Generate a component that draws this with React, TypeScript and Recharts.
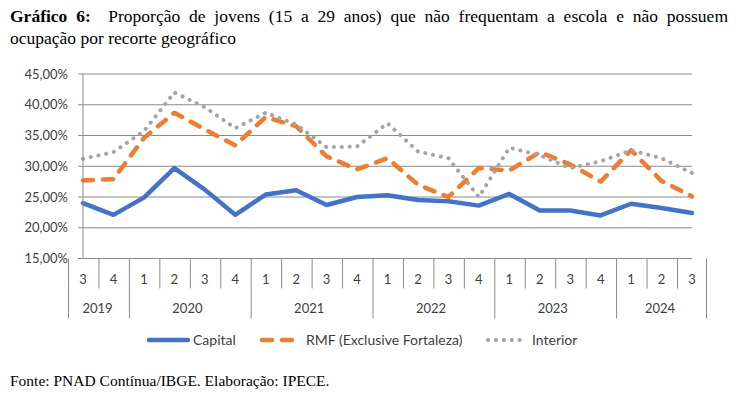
import React from 'react';
import { LineChart, Line, XAxis, YAxis, CartesianGrid } from 'recharts';

const quarters = ['3', '4', '1', '2', '3', '4', '1', '2', '3', '4', '1', '2', '3', '4', '1', '2', '3', '4', '1', '2', '3'];
const years = ['2019', '2019', '2020', '2020', '2020', '2020', '2021', '2021', '2021', '2021', '2022', '2022', '2022', '2022', '2023', '2023', '2023', '2023', '2024', '2024', '2024'];
const capital = [24.0, 22.1, 24.9, 29.7, 26.2, 22.1, 25.4, 26.1, 23.7, 25.0, 25.3, 24.5, 24.3, 23.6, 25.5, 22.8, 22.8, 22.0, 23.9, 23.2, 22.4];
const rmf = [27.7, 27.9, 34.6, 38.7, 36.0, 33.4, 38.0, 36.5, 31.6, 29.5, 31.3, 27.0, 25.0, 29.7, 29.3, 32.3, 30.3, 27.5, 32.6, 27.6, 25.1];
const interior = [31.2, 32.3, 35.7, 42.0, 39.6, 36.2, 38.7, 36.8, 33.1, 33.2, 37.0, 32.4, 31.3, 25.0, 33.0, 31.8, 29.7, 30.8, 32.6, 31.3, 28.9];
const yTicks = [15, 20, 25, 30, 35, 40, 45];

const data = quarters.map((q, i) => ({
  q,
  year: years[i],
  capital: capital[i],
  rmf: rmf[i],
  interior: interior[i],
}));

const FONT = 'Lato, "Open Sans", sans-serif';
const SERIF = '"Liberation Serif", "Times New Roman", serif';
const GRID = '#8a8a8a';
const TEXT = '#404040';

// plot box
const PLOT_LEFT = 83;
const PLOT_RIGHT = 692;
const PLOT_TOP = 74;
const PLOT_BOTTOM = 258.5;
const STEP = (PLOT_RIGHT - PLOT_LEFT) / quarters.length;

const series = [
  { key: 'capital', name: 'Capital', color: '#4472C4', dash: undefined, width: 4.5 },
  { key: 'rmf', name: 'RMF (Exclusive Fortaleza)', color: '#ED7D31', dash: '10 10', width: 4.5 },
  { key: 'interior', name: 'Interior', color: '#A5A5A5', dash: '0.1 7.8', width: 4 },
];
const legendLeft = [146, 259, 485];

const fmt = (v: number) => v.toFixed(2).replace('.', ',') + '%';

// Two-level category axis: quarter row + year row with separators
function QuarterTick(props: any) {
  const { x, y, payload } = props;
  const i = props.index ?? payload.index;
  const yearStart = i === 0 || years[i] !== years[i - 1];
  const last = i === quarters.length - 1;
  let count = 0;
  if (yearStart) {
    while (years[i + count] === years[i]) count++;
  }
  const left = x - STEP / 2;
  return (
    <g>
      <line x1={left} x2={left} y1={y} y2={y + (yearStart ? 60 : 30)} stroke={GRID} strokeWidth={1} />
      {last && <line x1={x + STEP / 2} x2={x + STEP / 2} y1={y} y2={y + 60} stroke={GRID} strokeWidth={1} />}
      <text x={x} y={y + 25} textAnchor="middle" fontSize={13} fontFamily={FONT} fill={TEXT}>
        {payload.value}
      </text>
      {yearStart && (
        <text x={x + ((count - 1) * STEP) / 2} y={y + 54} textAnchor="middle" fontSize={13} fontFamily={FONT} fill={TEXT}>
          {years[i]}
        </text>
      )}
    </g>
  );
}

function Swatch({ color, dash, width }: { color: string; dash?: string; width: number }) {
  return (
    <svg width={45} height={10} style={{ display: 'block' }}>
      <line x1={3} x2={42} y1={5} y2={5} stroke={color} strokeWidth={width} strokeDasharray={dash} strokeLinecap="round" />
    </svg>
  );
}

export default function App() {
  return (
    <div style={{ position: 'relative', width: 740, height: 399, margin: -8, background: '#fff', overflow: 'hidden' }}>
      <div style={{ position: 'absolute', left: 10, top: 5, width: 718, fontFamily: SERIF, fontSize: 17.5, lineHeight: '22px', color: '#000' }}>
        <div style={{ textAlign: 'justify', textAlignLast: 'justify', whiteSpace: 'nowrap' as any }}>
          <b>Gráfico 6:</b>&nbsp; Proporção de jovens (15 a 29 anos) que não frequentam a escola e não possuem
        </div>
        <div>ocupação por recorte geográfico</div>
      </div>

      <div style={{ position: 'absolute', left: 0, top: 0 }}>
        <LineChart
          width={740}
          height={399}
          data={data}
          margin={{ top: PLOT_TOP, right: 740 - PLOT_RIGHT, left: 20, bottom: 399 - PLOT_BOTTOM - 60 }}
        >
          <CartesianGrid vertical={false} stroke={GRID} strokeWidth={1} />
          <XAxis
            dataKey="q"
            interval={0}
            height={60}
            tickLine={false}
            tickSize={0}
            tickMargin={0}
            axisLine={{ stroke: GRID }}
            tick={<QuarterTick />}
          />
          <YAxis
            width={PLOT_LEFT - 20}
            domain={[15, 45]}
            ticks={yTicks}
            interval={0}
            tickFormatter={fmt}
            axisLine={{ stroke: GRID }}
            tickLine={{ stroke: GRID }}
            tickSize={5}
            tickMargin={10}
            tick={{ fontSize: 13, fontFamily: FONT, fill: TEXT }}
          />
          {series.map((s) => (
            <Line
              key={s.key}
              type="linear"
              dataKey={s.key}
              name={s.name}
              stroke={s.color}
              strokeWidth={s.width}
              strokeDasharray={s.dash}
              strokeLinecap="round"
              strokeLinejoin="round"
              dot={false}
              activeDot={false}
              isAnimationActive={false}
            />
          ))}
        </LineChart>
      </div>

      {series.map((s, i) => (
        <div
          key={s.key}
          style={{ position: 'absolute', left: legendLeft[i], top: 331, display: 'flex', alignItems: 'center', fontFamily: FONT, fontSize: 14, color: TEXT, lineHeight: '18px' }}
        >
          <Swatch color={s.color} dash={s.dash} width={s.width} />
          <span style={{ marginLeft: 2 }}>{s.name}</span>
        </div>
      ))}

      <div style={{ position: 'absolute', left: 10, top: 372, fontFamily: SERIF, fontSize: 15.5, color: '#000' }}>
        Fonte: PNAD Contínua/IBGE. Elaboração: IPECE.
      </div>
    </div>
  );
}
